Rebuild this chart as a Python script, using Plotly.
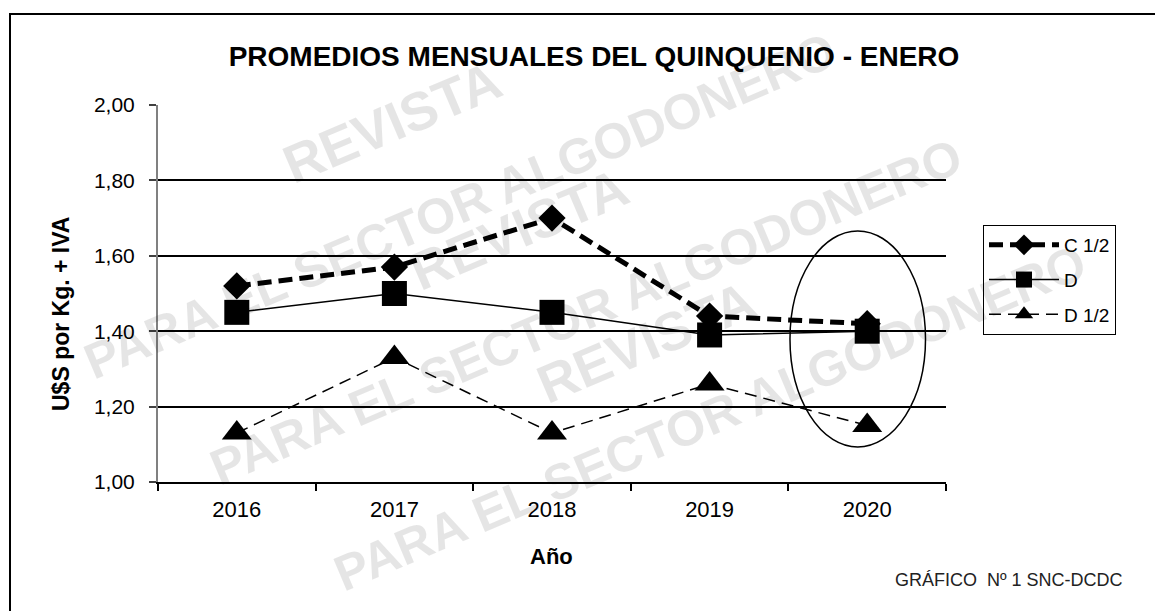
import plotly.graph_objects as go

# ---- data ----
years = ["2016", "2017", "2018", "2019", "2020"]
c_half = [1.52, 1.57, 1.70, 1.44, 1.42]
d_full = [1.45, 1.50, 1.45, 1.39, 1.40]
d_half = [1.13, 1.33, 1.13, 1.26, 1.15]
series_names = ["C 1/2", "D", "D 1/2"]
y_ticks = [1.0, 1.2, 1.4, 1.6, 1.8, 2.0]

FONT = "Liberation Sans, Arial, sans-serif"
OFF = 8                      # page body margin of the html
W, H = 1163 - OFF, 611 - OFF
L, R, T, B = 158, 946, 105, 482  # plot area in reference px


def px_x(px):
    return (px - L) / (R - L)


def px_y(py):
    return (B - py) / (B - T)


fig = go.Figure()
fig.add_trace(go.Scatter(
    x=years, y=c_half, name=series_names[0], legendgroup="a",
    mode="lines+markers",
    line=dict(color="black", width=5, dash="14px,7px"),
    marker=dict(symbol="diamond", size=21, color="black"),
))
fig.add_trace(go.Scatter(
    x=years, y=d_full, name=series_names[1], legendgroup="b",
    mode="lines+markers",
    line=dict(color="black", width=1.5),
    marker=dict(symbol="square", size=25, color="black"),
))
fig.add_trace(go.Scatter(
    x=years, y=d_half, name=series_names[2], legendgroup="c",
    mode="lines+markers",
    line=dict(color="black", width=1.5, dash="12px,7px"),
    marker=dict(symbol="triangle-up", size=26, color="black"),
))

annotations = []
# watermark stamps (semi-transparent so black marks stay black)
wm_color = "rgba(0,0,0,0.10)"
stamps = [((392, 122), (460, 206)), ((519, 229), (586, 312)), ((646, 342), (710, 418))]
for (rx, ry), (lx, ly) in stamps:
    annotations.append(dict(
        text="<b>REVISTA</b>", x=px_x(rx), y=px_y(ry), xref="paper", yref="paper",
        xanchor="center", yanchor="middle", showarrow=False, textangle=-23,
        font=dict(family=FONT, size=54, color=wm_color)))
    annotations.append(dict(
        text="<b>PARA EL SECTOR ALGODONERO</b>", x=px_x(lx), y=px_y(ly), xref="paper", yref="paper",
        xanchor="center", yanchor="middle", showarrow=False, textangle=-23,
        font=dict(family=FONT, size=50, color=wm_color)))

annotations += [
    dict(text="<b>U$S por Kg. + IVA</b>", x=px_x(61), y=px_y(314), xref="paper", yref="paper",
         xanchor="center", yanchor="middle", showarrow=False, textangle=-90,
         font=dict(family=FONT, size=23, color="black")),
    dict(text="<b>Año</b>", x=px_x(551), y=px_y(556), xref="paper", yref="paper",
         xanchor="center", yanchor="middle", showarrow=False,
         font=dict(family=FONT, size=22, color="black")),
    dict(text="GRÁFICO  Nº 1 SNC-DCDC", x=px_x(1125), y=px_y(580), xref="paper", yref="paper",
         xanchor="right", yanchor="middle", showarrow=False,
         font=dict(family=FONT, size=18, color="#222222")),
]

shapes = [
    # outer frame
    dict(type="rect", xref="paper", yref="paper",
         x0=px_x(10), x1=px_x(1175), y0=px_y(625), y1=px_y(14),
         line=dict(color="black", width=2), fillcolor="rgba(0,0,0,0)", layer="below"),
    # ellipse highlighting 2020
    dict(type="circle", xref="x", yref="y", x0=3.51, x1=4.37, y0=1.093, y1=1.666,
         line=dict(color="black", width=1.5)),
]

fig.update_layout(
    width=W, height=H, autosize=False,
    margin=dict(l=L - OFF, r=W - (R - OFF), t=T - OFF, b=H - (B - OFF), pad=0),
    paper_bgcolor="white", plot_bgcolor="white",
    separators=",.",
    font=dict(family=FONT, color="black"),
    title=dict(text="<b>PROMEDIOS MENSUALES DEL QUINQUENIO - ENERO</b>",
               x=(594 - OFF) / W, xanchor="center", y=1 - (56 - OFF) / H, yanchor="middle",
               font=dict(family=FONT, size=28, color="black")),
    xaxis=dict(type="category", categoryorder="array", categoryarray=years,
               range=[-0.5, 4.5], tickson="boundaries", ticks="outside", ticklen=7,
               tickwidth=2, tickcolor="black", showline=True, linecolor="black", linewidth=2,
               showgrid=False, ticklabelstandoff=7,
               tickfont=dict(size=22, family=FONT, color="black")),
    yaxis=dict(range=[1.0, 2.0], tickvals=y_ticks, tickformat=".2f",
               showgrid=True, gridcolor="black", gridwidth=2, zeroline=False,
               showline=True, linecolor="#808080", linewidth=2,
               ticks="outside", ticklen=7, tickwidth=1.5, tickcolor="#404040",
               ticklabelstandoff=10,
               tickfont=dict(size=21, family=FONT, color="black")),
    legend=dict(x=px_x(983), y=px_y(225), xanchor="left", yanchor="top",
                bordercolor="black", borderwidth=1, bgcolor="white",
                traceorder="grouped", tracegroupgap=7, itemwidth=70,
                font=dict(size=19, family=FONT, color="black")),
    annotations=annotations,
    shapes=shapes,
)

fig.write_html("out.html")
